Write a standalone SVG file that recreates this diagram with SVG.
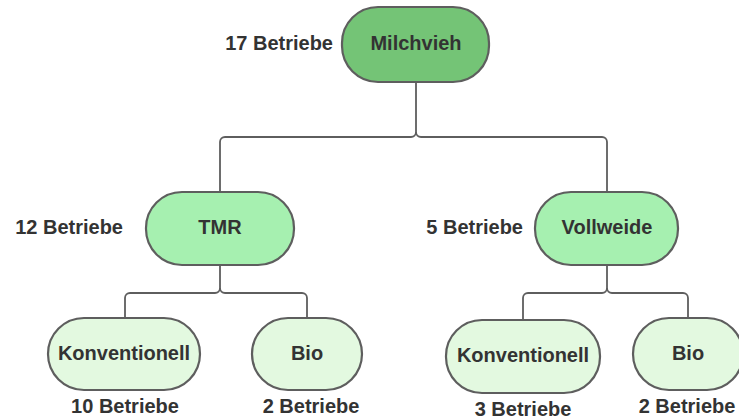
<svg xmlns="http://www.w3.org/2000/svg" width="739" height="419" viewBox="0 0 739 419">
<style>
.node{stroke:#5e5e5e;stroke-width:2.2}
.l1{fill:#74c476}
.l2{fill:#a6f0b0}
.l3{fill:#e3f9e0}
.t{font-family:"Liberation Sans",Arial,sans-serif;font-weight:bold;font-size:20px;fill:#333333}
.c{text-anchor:middle}
.e{text-anchor:end}
.conn{fill:none;stroke:#5e5e5e;stroke-width:1.8}
</style>
<rect width="739" height="419" fill="#ffffff"/>
<g id="connectors">
<path class="conn" d="M416,82 V132 A5,5 0 0 1 411,137 H225 A5,5 0 0 0 220,142 V192"/>
<path class="conn" d="M416,132 A5,5 0 0 0 421,137 H602 A5,5 0 0 1 607,142 V192"/>
<path class="conn" d="M220,265 V288 A5,5 0 0 1 215,293 H130 A5,5 0 0 0 125,298 V318"/>
<path class="conn" d="M220,288 A5,5 0 0 0 225,293 H302 A5,5 0 0 1 307,298 V318"/>
<path class="conn" d="M607,265 V288 A5,5 0 0 1 602,293 H528 A5,5 0 0 0 523,298 V320"/>
<path class="conn" d="M607,288 A5,5 0 0 0 612,293 H683 A5,5 0 0 1 688,298 V318"/>
</g>
<g id="milchvieh">
<rect class="node l1" x="342" y="7" width="147" height="75" rx="36"/>
<text class="t c" x="416" y="50">Milchvieh</text>
</g>
<text class="t e" x="333" y="50">17 Betriebe</text>
<g id="tmr">
<rect class="node l2" x="146" y="192" width="148" height="73" rx="36"/>
<text class="t c" x="220" y="234">TMR</text>
</g>
<text class="t e" x="123" y="234">12 Betriebe</text>
<g id="vollweide">
<rect class="node l2" x="535" y="192" width="143" height="73" rx="36"/>
<text class="t c" x="607" y="234">Vollweide</text>
</g>
<text class="t e" x="523" y="234">5 Betriebe</text>
<g id="konventionell1">
<rect class="node l3" x="48" y="318" width="152" height="72" rx="36"/>
<text class="t c" x="124" y="360">Konventionell</text>
</g>
<text class="t c" x="125" y="413">10 Betriebe</text>
<g id="bio1">
<rect class="node l3" x="252" y="318" width="110" height="72" rx="36"/>
<text class="t c" x="307" y="360">Bio</text>
</g>
<text class="t c" x="311" y="413">2 Betriebe</text>
<g id="konventionell2">
<rect class="node l3" x="446" y="320" width="154" height="73" rx="36"/>
<text class="t c" x="523" y="362">Konventionell</text>
</g>
<text class="t c" x="523" y="416">3 Betriebe</text>
<g id="bio2">
<rect class="node l3" x="633" y="318" width="110" height="72" rx="36"/>
<text class="t c" x="688" y="360">Bio</text>
</g>
<text class="t c" x="687" y="413">2 Betriebe</text>
</svg>
